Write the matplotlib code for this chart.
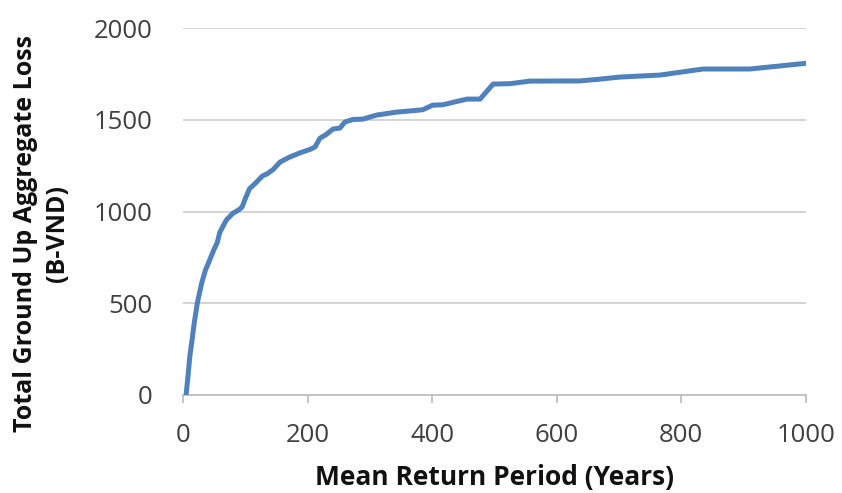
import matplotlib
matplotlib.use("Agg")
import matplotlib.pyplot as plt

years = [5, 8, 11, 15, 18, 23, 30, 36, 41, 50, 55, 59, 65, 70, 80, 90, 95, 100,
         107, 115, 128, 135, 145, 156, 170, 188, 205, 212, 220, 230, 241, 252,
         260, 273, 289, 311, 343, 370, 385, 401, 417, 456, 477, 498, 525, 557,
         637, 664, 701, 766, 835, 910, 1000]
loss = [0, 100, 210, 310, 390, 500, 610, 680, 720, 795, 830, 885, 925, 955,
        990, 1010, 1025, 1070, 1125, 1150, 1195, 1205, 1230, 1270, 1295, 1320,
        1340, 1352, 1400, 1420, 1450, 1455, 1488, 1502, 1504, 1526, 1542, 1550,
        1555, 1580, 1582, 1613, 1613, 1695, 1697, 1711, 1712, 1720, 1733, 1744,
        1777, 1777, 1808]
x_ticks = [0, 200, 400, 600, 800, 1000]
y_ticks = [0, 500, 1000, 1500, 2000]

plt.rcParams['font.family'] = ['Open Sans', 'DejaVu Sans']

fig = plt.figure(figsize=(8.42, 4.93), dpi=100)
ax = fig.add_axes([0.2173, 0.1988, 0.957 - 0.2173, 0.943 - 0.1988])

ax.plot(years, loss, color='#4F81BD', linewidth=3.6, solid_joinstyle='round',
        solid_capstyle='round', zorder=3)

ax.set_xlim(0, 1000)
ax.set_ylim(0, 2000)
ax.set_xticks(x_ticks)
ax.set_yticks(y_ticks)
ax.grid(axis='y', color='#D0D0D0', linewidth=1.3, zorder=0)
ax.set_axisbelow(True)

for s in ['top', 'right', 'left']:
    ax.spines[s].set_visible(False)
ax.spines['bottom'].set_color('#BFBFBF')
ax.spines['bottom'].set_linewidth(1.3)

ax.tick_params(axis='x', direction='out', length=6, width=1.3, color='#BFBFBF',
               labelsize=18.5, labelcolor='#404040', pad=14)
ax.tick_params(axis='y', length=0, labelsize=18.5, labelcolor='#404040', pad=22)

ax.set_xlabel('Mean Return Period (Years)', fontsize=19, fontweight='bold',
              color='#111111', labelpad=12)
ax.set_ylabel('Total Ground Up Aggregate Loss\n(B-VND)', fontsize=18,
              fontweight='bold', color='#111111', linespacing=1.4)
ax.yaxis.set_label_coords(-0.181, 0.44)

fig.savefig('out.png', dpi=100)
